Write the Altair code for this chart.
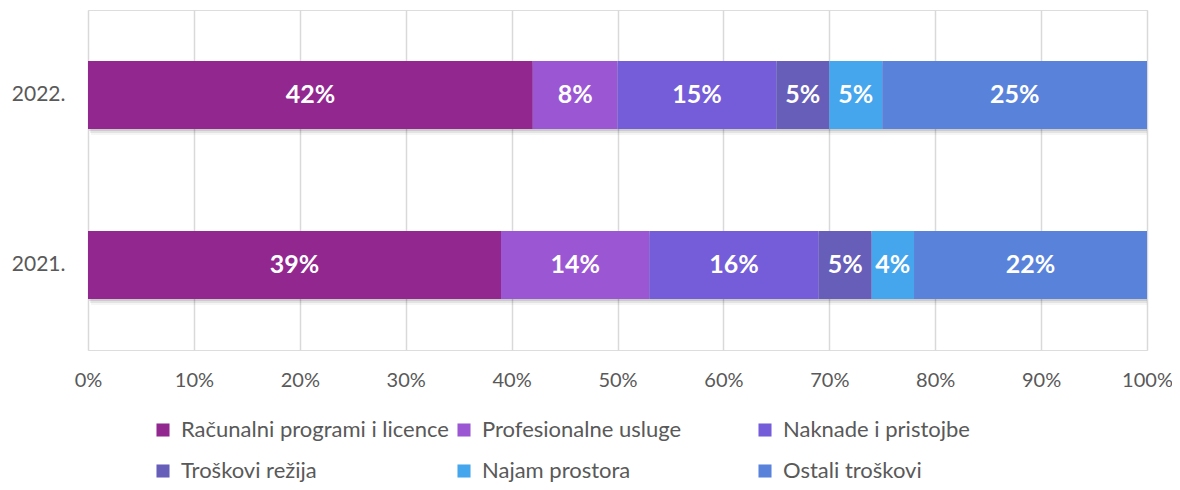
import altair as alt
import pandas as pd

years = ["2022.", "2021."]
categories = [
    "Računalni programi i licence",
    "Profesionalne usluge",
    "Naknade i pristojbe",
    "Troškovi režija",
    "Najam prostora",
    "Ostali troškovi",
]
colors = ["#92278F", "#9B57D3", "#755DD9", "#665EB8", "#45A5ED", "#5982DB"]
values_2022 = [42, 8, 15, 5, 5, 25]
values_2021 = [39, 14, 16, 5, 4, 22]

rows = []
for year, vals in zip(years, [values_2022, values_2021]):
    for i, (cat, v) in enumerate(zip(categories, vals)):
        rows.append({"year": year, "category": cat, "order": i, "value": v})
df = pd.DataFrame(rows)

FONT = "Lato"

base = alt.Chart(df).transform_stack(
    stack="value",
    groupby=["year"],
    sort=[alt.SortField("order")],
    offset="normalize",
    as_=["x0", "x1"],
).transform_calculate(mid="(datum.x0 + datum.x1) / 2")

yenc = alt.Y(
    "year:N",
    sort=years,
    title=None,
    scale=alt.Scale(paddingInner=0.6, paddingOuter=0.3),
    axis=alt.Axis(
        domain=False,
        ticks=False,
        labelPadding=23,
        labelFontSize=21,
        labelColor="#595959",
        labelFont=FONT,
    ),
)

xscale = alt.Scale(domain=[0, 1], nice=False)

shadow_layers = []
for off, op in [(2, 0.10), (4, 0.07), (6, 0.04)]:
    shadow_layers.append(
        alt.Chart(df)
        .transform_aggregate(total="sum(value)", groupby=["year"])
        .transform_calculate(s="0", e="datum.total / datum.total")
        .mark_bar(color="black", opacity=op, yOffset=off, xOffset=off / 2)
        .encode(
            x=alt.X("s:Q", scale=xscale),
            x2="e:Q",
            y=alt.Y("year:N", sort=years),
        )
    )

bars = base.mark_bar().encode(
    x=alt.X(
        "x0:Q",
        scale=xscale,
        title=None,
        axis=alt.Axis(
            format="%",
            values=[i / 10 for i in range(11)],
            domain=False,
            ticks=False,
            grid=True,
            gridColor="#D9D9D9",
            gridWidth=1.5,
            labelPadding=20,
            labelFontSize=20,
            labelColor="#595959",
            labelFont=FONT,
            labelFlush=False,
        ),
    ),
    x2="x1:Q",
    y=yenc,
    color=alt.Color(
        "category:N",
        sort=categories,
        scale=alt.Scale(domain=categories, range=colors),
        legend=alt.Legend(
            title=None,
            orient="none",
            direction="horizontal",
            legendX=64,
            legendY=409,
            columns=3,
            gridAlign="all",
            columnPadding=4,
            rowPadding=19,
            symbolType="square",
            symbolSize=170,
            symbolStrokeWidth=0,
            labelFontSize=22,
            labelColor="#595959",
            labelFont=FONT,
            labelOffset=7,
            labelLimit=400,
            padding=0,
        ),
    ),
)

labels = (
    base.transform_calculate(lab="datum.value + '%'")
    .mark_text(color="white", fontWeight="bold", fontSize=25, font=FONT, baseline="middle")
    .encode(
        x=alt.X("mid:Q", scale=xscale),
        y=alt.Y("year:N", sort=years),
        text="lab:N",
    )
)

chart = (
    alt.layer(*shadow_layers, bars, labels)
    .properties(
        width=1059,
        height=340,
        autosize=alt.AutoSizeParams(type="none"),
        padding={"left": 80, "top": 2, "right": 25, "bottom": 136},
    )
    .configure_view(stroke=None)
    .configure(background="white")
)

chart.save("out.html", embed_options={"renderer": "svg", "actions": False})
